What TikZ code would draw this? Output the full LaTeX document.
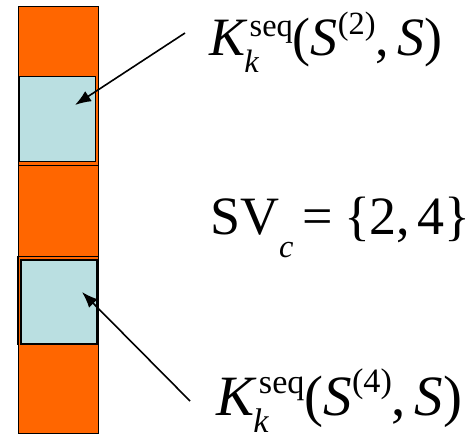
\documentclass[tikz,border=0pt]{standalone}
\usepackage{fontspec}
\setmainfont{Liberation Serif}
\usetikzlibrary{arrows.meta}
\definecolor{barorange}{RGB}{255,102,0}
\definecolor{boxcyan}{RGB}{186,223,225}
\newcommand{\smallsz}{\fontsize{0.6em}{0.6em}\selectfont}
\newcommand{\kseq}[1]{\textit{K}\hspace{0.04em}\makebox[0pt][l]{\hspace{-0.1em}\raisebox{-0.3em}{\smallsz\textit{k}}}\raisebox{0.37em}{\smallsz seq}(\textit{S}\raisebox{0.4em}{\smallsz(#1)},\hspace{0.15em}\textit{S})}
\tikzset{
  seg/.style={fill=barorange, draw=black, line width=0.8pt},
  cell/.style={fill=boxcyan, draw=black, line width=1pt},
  ptr/.style={draw=black, line width=1.6pt, -{Latex[length=16pt,width=12pt]}},
  lbl/.style={anchor=base west, inner sep=0pt, font=\fontsize{54}{60}\selectfont}
}
\begin{document}
\begin{tikzpicture}[x=1pt,y=-1pt]
\useasboundingbox (0,0) rectangle (476,438);
% bar
\path[seg] (18,6) rectangle (98,433);
\draw[black, line width=0.8pt] (18,165) -- (98,165);
\draw[black, line width=0.8pt] (18,256) -- (98,256);
\path[cell] (19,77) rectangle (95,162);
\path[cell, line width=2pt] (21,260) rectangle (97,344);
\draw[black, line width=2pt] (18,256) -- (18,345);
% targets
\coordinate (t1) at (75,105);
\coordinate (t2) at (82,292);
% labels
\node[lbl] (k2) at (209,56) {\kseq{2}};
\node[lbl] (sv) at (210,235) {SV\raisebox{-0.42em}{\smallsz\textit{c}}\hspace{9pt}=\hspace{11pt}\{2,\hspace{7pt}4\}};
\node[lbl, font=\fontsize{57}{60}\selectfont] (k4) at (216,415) {\kseq{4}};
\coordinate (s1) at (185,33);
\coordinate (s2) at (190,401);
\draw[ptr] (s1) -- (t1);
\draw[ptr] (s2) -- (t2);
\end{tikzpicture}
\end{document}
